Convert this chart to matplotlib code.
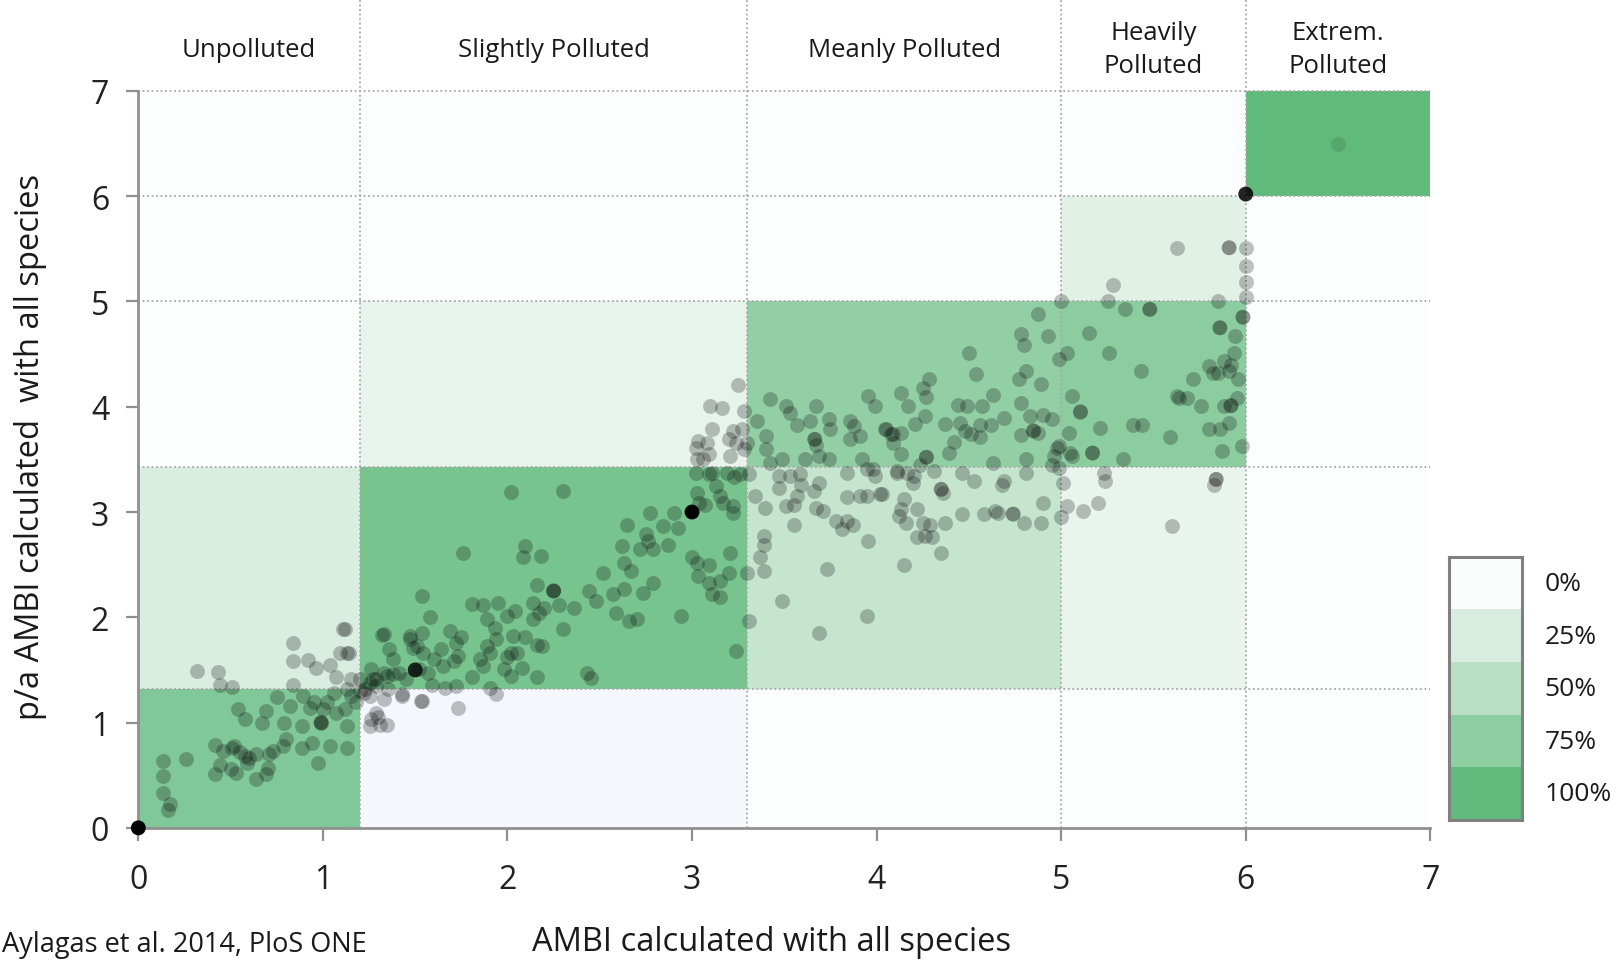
import numpy as np
import matplotlib
matplotlib.use("Agg")
import matplotlib.pyplot as plt
from matplotlib.colors import to_rgb, ListedColormap
import matplotlib.transforms as mtransforms

plt.rcParams['font.family'] = ['Open Sans', 'DejaVu Sans']

# ---------------- data ----------------
x_edges = [0, 1.2, 3.3, 5.0, 6.0, 7.0]
y_edges = [0, 1.32, 3.43, 5.0, 6.0, 7.0]
# rows bottom -> top, columns left -> right
cell_colors = [
    ['#80c897', '#f4f8fc', '#fcfdfd', '#fcfdfd', '#fcfdfd'],
    ['#d9ede1', '#77c48e', '#c6e5cf', '#e8f4ec', '#fcfdfd'],
    ['#fcfdfd', '#e7f4eb', '#93cfa5', '#8ccd9f', '#fcfdfd'],
    ['#fcfdfd', '#fcfdfd', '#fcfdfd', '#e2f1e6', '#fcfdfd'],
    ['#fcfdfd', '#fcfdfd', '#fcfdfd', '#fcfdfd', '#5fba7b'],
]
class_labels = ['Unpolluted', 'Slightly Polluted', 'Meanly Polluted', 'Heavily\nPolluted', 'Extrem.\nPolluted']
class_centers = [0.6, 2.25, 4.15, 5.5, 6.5]
legend_labels = ['0%', '25%', '50%', '75%', '100%']
legend_colors = ['#fbfdfc', '#d8ede0', '#b8dfc3', '#8ecfa1', '#5fba7b']
ticks = [0, 1, 2, 3, 4, 5, 6, 7]

# single sample points (AMBI all species, p/a AMBI)
pts_x = [
    0.135, 0.135, 0.135, 0.17, 0.16, 0.26, 0.32, 0.43, 0.44, 0.51, 0.84, 0.84, 0.92, 0.96, 1.04, 1.11,
    1.09, 1.14, 1.07, 1.15, 0.84, 0.54, 0.58, 0.69, 0.67, 0.75, 0.79, 0.82, 0.885, 0.89, 0.93, 0.99,
    1.00, 1.06, 1.07, 1.12, 1.13, 1.04, 1.13, 0.975, 0.94, 0.885, 0.80, 0.785, 0.73, 0.71, 0.64, 0.59,
    0.58, 0.52, 0.51, 0.415, 0.46, 0.44, 0.415, 0.50, 0.53, 0.64, 0.69, 0.55, 0.60, 0.70, 1.15, 1.20,
    1.18, 1.23, 0.95, 1.02, 1.255, 1.30, 1.345, 1.255, 1.33, 1.43, 1.535, 1.29, 1.255, 1.29, 1.345, 1.38,
    1.45, 1.47, 1.33, 1.51, 1.535,
    2.02, 2.30, 2.65, 1.76, 2.095, 2.085, 2.18, 2.62, 2.63, 2.67, 2.52, 2.16, 1.535, 1.58, 1.32, 1.81,
    1.87, 1.95, 2.00, 1.89, 2.04, 2.14, 2.17, 2.20, 2.28, 2.36, 2.44, 2.48, 2.57, 2.59, 2.66, 2.30,
    2.14, 2.03, 2.095, 2.02, 2.05, 2.08, 2.16, 2.185, 2.00, 1.98, 2.02, 2.16, 2.43, 2.455, 1.93, 1.94,
    1.89, 1.85, 1.905, 1.87, 1.81, 1.75, 1.72, 1.69, 1.73, 1.71, 1.64, 1.65, 1.60, 1.57, 1.54, 1.47,
    1.49, 1.52, 1.36, 1.38, 1.41, 1.33, 1.27, 1.29, 1.26, 1.22, 1.20, 1.355, 1.43, 1.53, 1.59, 1.66,
    1.72, 1.73, 1.94, 1.905, 1.26, 1.31, 1.13, 1.12, 1.13,
    3.25, 3.10, 3.16, 3.28, 3.11, 3.22, 3.27, 3.03, 3.08, 3.02, 3.09, 3.025, 3.06, 3.20, 3.24, 3.205,
    3.28, 3.30, 3.02, 3.09, 3.11, 3.19, 3.23, 3.26, 3.025, 3.04, 3.13, 3.15, 3.17, 3.22, 3.22, 3.07,
    3.31, 2.77, 2.90, 2.84, 2.925, 2.75, 2.76, 2.79, 2.72, 2.87, 2.63, 2.735, 2.79, 3.00, 3.025, 3.09,
    3.03, 3.09, 3.11, 3.15, 3.15, 3.20, 3.205, 2.70, 2.94, 3.24, 3.30, 3.34, 3.395, 3.47, 3.51, 3.55,
    3.59, 3.57, 3.66, 3.69, 3.71, 3.67, 3.84, 3.91, 3.95, 4.02, 3.78, 3.84, 3.87, 3.81, 3.55, 3.39,
    3.39, 3.37, 3.39, 3.485, 3.73, 3.69, 3.955, 3.95, 3.31, 3.42, 3.51, 3.53, 3.57, 3.67, 3.67, 3.64,
    3.74, 3.75, 3.855, 3.88, 3.955, 3.99, 4.05, 4.09, 3.35, 3.40, 3.40, 3.42, 3.49, 3.53, 3.61, 3.69,
    3.74, 3.92, 3.95, 3.98, 3.855, 3.91, 3.84, 3.99, 3.47, 3.585, 4.11,
    4.875, 4.78, 4.80, 4.93, 4.50, 4.54, 4.81, 4.77, 4.89, 4.285, 4.25, 4.27, 4.13, 4.17, 4.63, 4.785,
    4.57, 4.44, 4.49, 4.21, 4.26, 4.37, 4.45, 4.48, 4.51, 4.56, 4.56, 4.62, 4.69, 4.83, 4.90, 4.95,
    4.875, 4.785, 4.045, 4.08, 4.13, 4.09, 4.42, 4.39, 4.13, 4.235, 4.63, 4.81, 4.96, 4.99, 5.04, 5.10,
    5.06, 5.03, 4.99, 5.15, 5.26, 5.43, 5.00, 5.255, 5.345, 5.28, 5.21, 5.39, 5.44, 5.59, 5.625, 5.05,
    5.335, 4.11, 4.165, 4.20, 4.195, 4.31, 4.46, 4.53, 4.68, 4.69, 4.81, 4.95, 4.99, 4.36, 4.03, 4.15,
    4.13, 4.12, 4.22, 4.16, 4.25, 4.29, 4.22, 4.26, 4.30, 4.37, 4.46, 4.58, 4.64, 4.66, 4.80, 4.89,
    4.90, 5.01, 5.03, 5.00, 5.12, 5.20, 5.23, 5.24, 4.35, 4.15, 5.60,
    5.625, 6.00, 6.00, 6.00, 6.00, 5.85, 5.94, 5.80, 5.88, 5.92, 5.935, 5.91, 5.82, 5.85, 5.96, 5.715,
    5.64, 5.68, 5.76, 5.88, 5.95, 5.91, 5.80, 5.86, 5.87, 5.98, 5.10, 4.98, 5.06, 5.83,
]
pts_y = [
    0.635, 0.49, 0.335, 0.23, 0.17, 0.65, 1.49, 1.48, 1.36, 1.34, 1.76, 1.585, 1.595, 1.52, 1.55, 1.885,
    1.66, 1.66, 1.43, 1.41, 1.36, 1.13, 1.03, 1.11, 1.00, 1.24, 1.00, 1.16, 0.97, 1.25, 1.14, 1.00,
    1.13, 1.285, 1.095, 1.13, 0.97, 0.78, 0.76, 0.62, 0.81, 0.76, 0.84, 0.78, 0.73, 0.70, 0.70, 0.62,
    0.68, 0.78, 0.76, 0.79, 0.73, 0.60, 0.51, 0.56, 0.525, 0.46, 0.51, 0.72, 0.66, 0.57, 1.25, 1.30,
    1.20, 1.32, 1.20, 1.20, 0.97, 1.05, 0.98, 1.25, 1.22, 1.25, 1.205, 1.095, 1.38, 1.41, 1.44, 1.46,
    1.41, 1.82, 1.84, 1.73, 1.855,
    3.19, 3.20, 2.88, 2.61, 2.68, 2.57, 2.58, 2.68, 2.52, 2.44, 2.42, 2.31, 2.20, 2.00, 1.83, 2.13,
    2.12, 2.14, 2.01, 1.98, 2.06, 2.14, 2.04, 2.09, 2.12, 2.09, 2.25, 2.15, 2.22, 2.04, 1.965, 1.885,
    1.98, 1.82, 1.81, 1.665, 1.665, 1.52, 1.74, 1.73, 1.62, 1.51, 1.44, 1.43, 1.475, 1.42, 1.90, 1.79,
    1.73, 1.60, 1.665, 1.54, 1.43, 1.81, 1.76, 1.87, 1.63, 1.585, 1.70, 1.54, 1.60, 1.475, 1.665, 1.79,
    1.71, 1.51, 1.70, 1.60, 1.475, 1.475, 1.41, 1.35, 1.51, 1.285, 1.41, 1.32, 1.27, 1.205, 1.36, 1.33,
    1.35, 1.14, 1.27, 1.33, 1.03, 0.98, 1.32, 1.885, 1.665,
    4.21, 4.01, 3.99, 3.96, 3.785, 3.77, 3.785, 3.67, 3.66, 3.61, 3.55, 3.50, 3.50, 3.69, 3.66, 3.53,
    3.595, 3.66, 3.37, 3.36, 3.37, 3.37, 3.33, 3.36, 3.18, 3.09, 3.25, 3.15, 3.09, 3.06, 2.99, 3.07,
    3.36, 2.995, 2.995, 2.87, 2.85, 2.79, 2.725, 2.645, 2.645, 2.69, 2.27, 2.235, 2.33, 2.57, 2.52, 2.50,
    2.39, 2.33, 2.22, 2.19, 2.345, 2.42, 2.61, 1.98, 2.01, 1.68, 2.42, 3.15, 3.04, 3.23, 3.06, 3.07,
    3.26, 3.15, 3.20, 3.28, 3.01, 3.04, 3.14, 3.15, 3.15, 3.17, 2.915, 2.915, 2.88, 2.835, 2.88, 2.77,
    2.69, 2.57, 2.44, 2.155, 2.46, 1.855, 2.725, 2.01, 1.965, 4.07, 4.01, 3.94, 3.83, 4.01, 3.64, 3.86,
    3.88, 3.785, 3.86, 3.82, 4.10, 4.01, 3.785, 3.74, 3.86, 3.72, 3.595, 3.47, 3.50, 3.34, 3.50, 3.53,
    3.50, 3.50, 3.405, 3.405, 3.69, 3.72, 3.37, 3.34, 3.34, 3.36, 3.37,
    4.88, 4.69, 4.59, 4.67, 4.51, 4.31, 4.34, 4.26, 4.22, 4.26, 4.18, 4.095, 4.13, 4.01, 4.11, 4.04,
    4.01, 4.02, 4.01, 3.84, 3.91, 3.84, 3.85, 3.77, 3.74, 3.71, 3.83, 3.83, 3.89, 3.91, 3.92, 3.88,
    3.75, 3.73, 3.785, 3.74, 3.75, 3.66, 3.665, 3.56, 3.55, 3.45, 3.47, 3.50, 3.53, 3.63, 3.75, 3.96,
    4.10, 4.51, 4.45, 4.70, 4.51, 4.34, 5.00, 5.00, 4.925, 5.16, 3.80, 3.83, 3.83, 3.71, 4.10, 3.56,
    3.50, 3.39, 3.375, 3.34, 3.28, 3.39, 3.375, 3.29, 3.26, 3.29, 3.375, 3.45, 3.42, 3.18, 3.17, 3.12,
    3.03, 2.96, 3.03, 2.90, 2.90, 2.88, 2.76, 2.77, 2.76, 2.90, 2.98, 2.98, 3.01, 2.995, 2.90, 2.90,
    3.09, 3.28, 3.06, 2.95, 3.01, 3.09, 3.375, 3.295, 2.615, 2.50, 2.87,
    5.51, 5.51, 5.34, 5.18, 5.04, 5.00, 4.67, 4.39, 4.43, 4.40, 4.51, 4.34, 4.32, 4.32, 4.26, 4.26,
    4.085, 4.085, 4.01, 4.01, 4.085, 3.85, 3.785, 3.785, 3.58, 3.63, 3.95, 3.61, 3.53, 3.26,
]

# overlapping samples (several sites at the same position)
stack_x = [0.0, 1.5, 3.0, 6.0, 2.25, 0.99, 5.91, 5.48, 4.85, 5.92, 5.86, 5.985, 3.665, 4.35, 4.74, 4.27, 5.17, 5.84]
stack_y = [0.0, 1.5, 3.0, 6.02, 2.25, 1.00, 5.51, 4.925, 3.77, 4.01, 4.75, 4.85, 3.69, 3.215, 2.98, 3.52, 3.56, 3.31]
stack_n = [14, 6, 14, 7, 3, 2, 2, 2, 2, 2, 2, 2, 2, 2, 2, 2, 2, 2]

# faint point in the extremely polluted class
faint_x = [6.5]
faint_y = [6.5]

# ---------------- figure ----------------
fig = plt.figure(figsize=(16.18, 9.62), dpi=100)
ax = fig.add_axes([0.0855, 0.1384, 0.7985, 0.7661])

rgb = np.array([[to_rgb(c) for c in row] for row in cell_colors])
ax.pcolormesh(x_edges, y_edges, rgb, shading='flat', zorder=0)

grid_col = '#a8a8a8'
for yb in y_edges[1:]:
    ax.plot([0, 7], [yb, yb], linestyle=(0, (1, 1.5)), color=grid_col, lw=1.3, zorder=1, clip_on=False)
for xb in x_edges[1:-1]:
    ax.plot([xb, xb], [0, 7.9], linestyle=(0, (1, 1.5)), color=grid_col, lw=1.3, zorder=1, clip_on=False)

base_alpha = 0.24
msize = 115
ax.scatter(pts_x, pts_y, s=msize, color='black', alpha=base_alpha, linewidths=0, zorder=3)
ax.scatter(faint_x, faint_y, s=msize, color='black', alpha=0.1, linewidths=0, zorder=3)
stack_alpha = [1 - (1 - base_alpha) ** n for n in stack_n]
stack_rgba = [(0, 0, 0, a) for a in stack_alpha]
ax.scatter(stack_x, stack_y, s=msize, c=stack_rgba, linewidths=0, zorder=4, clip_on=False)

ax.set_xlim(0, 7)
ax.set_ylim(0, 7)
ax.set_xticks(ticks)
ax.set_yticks(ticks)
ax.tick_params(axis='both', labelsize=23, length=9, width=1.6, color='#909090', labelcolor='#222222')
ax.tick_params(axis='x', pad=16)
ax.tick_params(axis='y', pad=12)
for side in ['top', 'right']:
    ax.spines[side].set_visible(False)
for side in ['left', 'bottom']:
    ax.spines[side].set_color('#909090')
    ax.spines[side].set_linewidth(2)

trans = mtransforms.blended_transform_factory(ax.transData, fig.transFigure)
for lab, xc in zip(class_labels, class_centers):
    ax.text(xc, 0.948, lab, transform=trans, ha='center', va='center', fontsize=18.5,
            color='#1a1a1a', linespacing=1.45)

fig.text(0.019, 0.535, 'p/a AMBI calculated  with all species', rotation=90, ha='center', va='center',
         fontsize=23.5, color='#1a1a1a')
fig.text(0.477, 0.02, 'AMBI calculated with all species', ha='center', va='center', fontsize=23.5,
         color='#1a1a1a')
fig.text(0.001, 0.018, 'Aylagas et al. 2014, PloS ONE', ha='left', va='center', fontsize=19.5,
         color='#1a1a1a')

# legend (discrete colour bar)
lax = fig.add_axes([0.8955, 0.1466, 0.045, 0.273])
lax.imshow(np.arange(len(legend_colors)).reshape(-1, 1), cmap=ListedColormap(legend_colors),
           aspect='auto', extent=[0, 1, len(legend_colors), 0], interpolation='nearest')
lax.set_xticks([])
lax.set_yticks([])
for sp in lax.spines.values():
    sp.set_color('#808080')
    sp.set_linewidth(2.2)
for i, lab in enumerate(legend_labels):
    lax.text(1.31, i + 0.5, lab, transform=mtransforms.blended_transform_factory(lax.transAxes, lax.transData),
             ha='left', va='center', fontsize=19, color='#1a1a1a')

fig.savefig('out.png', dpi=100)
